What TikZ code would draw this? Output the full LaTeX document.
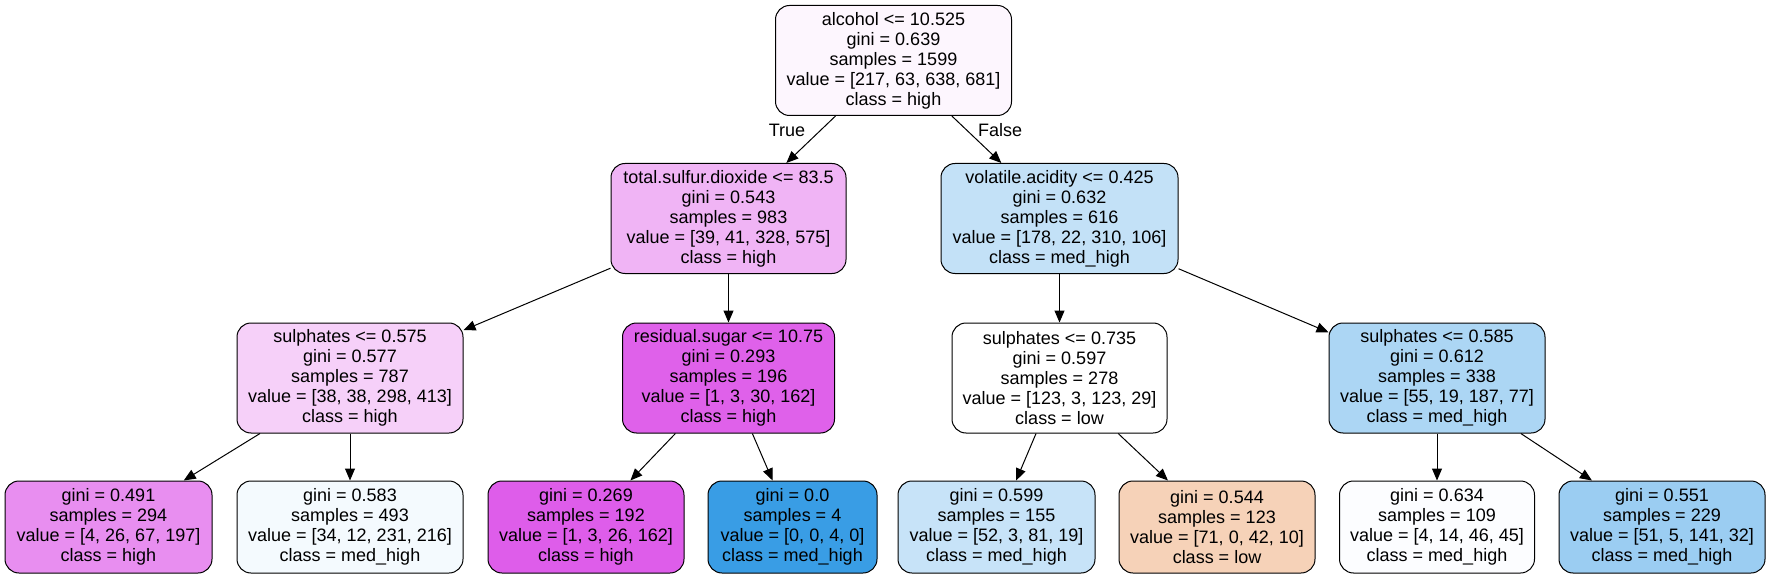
\documentclass[tikz,border=0pt]{standalone}
\usepackage{fontspec}
\setmainfont{Liberation Sans}
\usetikzlibrary{arrows.meta}
\definecolor{cA}{RGB}{253,246,254}
\definecolor{cB}{RGB}{240,180,245}
\definecolor{cC}{RGB}{195,225,247}
\definecolor{cD}{RGB}{246,208,249}
\definecolor{cE}{RGB}{223,97,234}
\definecolor{cF}{RGB}{255,255,255}
\definecolor{cG}{RGB}{172,214,244}
\definecolor{cH}{RGB}{232,142,240}
\definecolor{cI}{RGB}{244,250,254}
\definecolor{cJ}{RGB}{222,93,234}
\definecolor{cK}{RGB}{57,157,229}
\definecolor{cL}{RGB}{199,227,248}
\definecolor{cM}{RGB}{246,210,184}
\definecolor{cN}{RGB}{252,253,255}
\definecolor{cO}{RGB}{155,205,242}
\begin{document}
\begin{tikzpicture}[x=1pt,y=1pt,
  tn/.style={draw=black, line width=1pt, rounded corners=14pt, align=center,
    inner sep=0pt, font=\fontsize{18}{20}\selectfont},
  big/.style={minimum height=110pt},
  small/.style={minimum height=92pt},
  arr/.style={-{Triangle[length=12pt,width=10pt]}, line width=1pt},
  lbl/.style={font=\fontsize{18}{20}\selectfont, inner sep=0pt}]
\useasboundingbox (0,0) rectangle (1771,-577);
% root
\node[tn, big, fill=cA, minimum width=236pt] (n0) at (893.5,-60.5)
  {alcohol <= 10.525\\gini = 0.639\\samples = 1599\\value = [217, 63, 638, 681]\\class = high};
% level 2
\node[tn, big, fill=cB, minimum width=235pt] (n1) at (728.5,-218.5)
  {total.sulfur.dioxide <= 83.5\\gini = 0.543\\samples = 983\\value = [39, 41, 328, 575]\\class = high};
\node[tn, big, fill=cC, minimum width=237pt] (n2) at (1059.5,-218.5)
  {volatile.acidity <= 0.425\\gini = 0.632\\samples = 616\\value = [178, 22, 310, 106]\\class = med\_high};
% level 3
\node[tn, big, fill=cD, minimum width=226pt] (n3) at (350,-378)
  {sulphates <= 0.575\\gini = 0.577\\samples = 787\\value = [38, 38, 298, 413]\\class = high};
\node[tn, big, fill=cE, minimum width=212pt] (n4) at (728.5,-378)
  {residual.sugar <= 10.75\\gini = 0.293\\samples = 196\\value = [1, 3, 30, 162]\\class = high};
\node[tn, big, fill=cF, minimum width=215pt] (n5) at (1059.5,-378)
  {sulphates <= 0.735\\gini = 0.597\\samples = 278\\value = [123, 3, 123, 29]\\class = low};
\node[tn, big, fill=cG, minimum width=216pt] (n6) at (1437,-378)
  {sulphates <= 0.585\\gini = 0.612\\samples = 338\\value = [55, 19, 187, 77]\\class = med\_high};
% level 4
\node[tn, small, fill=cH, minimum width=207pt] (l1) at (108.5,-527)
  {gini = 0.491\\samples = 294\\value = [4, 26, 67, 197]\\class = high};
\node[tn, small, fill=cI, minimum width=226pt] (l2) at (350,-527)
  {gini = 0.583\\samples = 493\\value = [34, 12, 231, 216]\\class = med\_high};
\node[tn, small, fill=cJ, minimum width=196pt] (l3) at (586,-527)
  {gini = 0.269\\samples = 192\\value = [1, 3, 26, 162]\\class = high};
\node[tn, small, fill=cK, minimum width=169pt] (l4) at (792.5,-527)
  {gini = 0.0\\samples = 4\\value = [0, 0, 4, 0]\\class = med\_high};
\node[tn, small, fill=cL, minimum width=197pt] (l5) at (996.5,-527)
  {gini = 0.599\\samples = 155\\value = [52, 3, 81, 19]\\class = med\_high};
\node[tn, small, fill=cM, minimum width=196pt] (l6) at (1217,-527)
  {gini = 0.544\\samples = 123\\value = [71, 0, 42, 10]\\class = low};
\node[tn, small, fill=cN, minimum width=195pt] (l7) at (1437,-527)
  {gini = 0.634\\samples = 109\\value = [4, 14, 46, 45]\\class = med\_high};
\node[tn, small, fill=cO, minimum width=206pt] (l8) at (1662,-527)
  {gini = 0.551\\samples = 229\\value = [51, 5, 141, 32]\\class = med\_high};
% edges
\draw[arr] (n0) -- (n1);
\draw[arr] (n0) -- (n2);
\draw[arr] (n1) -- (n3);
\draw[arr] (n1) -- (n4);
\draw[arr] (n2) -- (n5);
\draw[arr] (n2) -- (n6);
\draw[arr] (n3) -- (l1);
\draw[arr] (n3) -- (l2);
\draw[arr] (n4) -- (l3);
\draw[arr] (n4) -- (l4);
\draw[arr] (n5) -- (l5);
\draw[arr] (n5) -- (l6);
\draw[arr] (n6) -- (l7);
\draw[arr] (n6) -- (l8);
% edge labels
\node[lbl] (tlab) at (787,-130) {True};
\node[lbl] (flab) at (1000,-130) {False};
\end{tikzpicture}
\end{document}
